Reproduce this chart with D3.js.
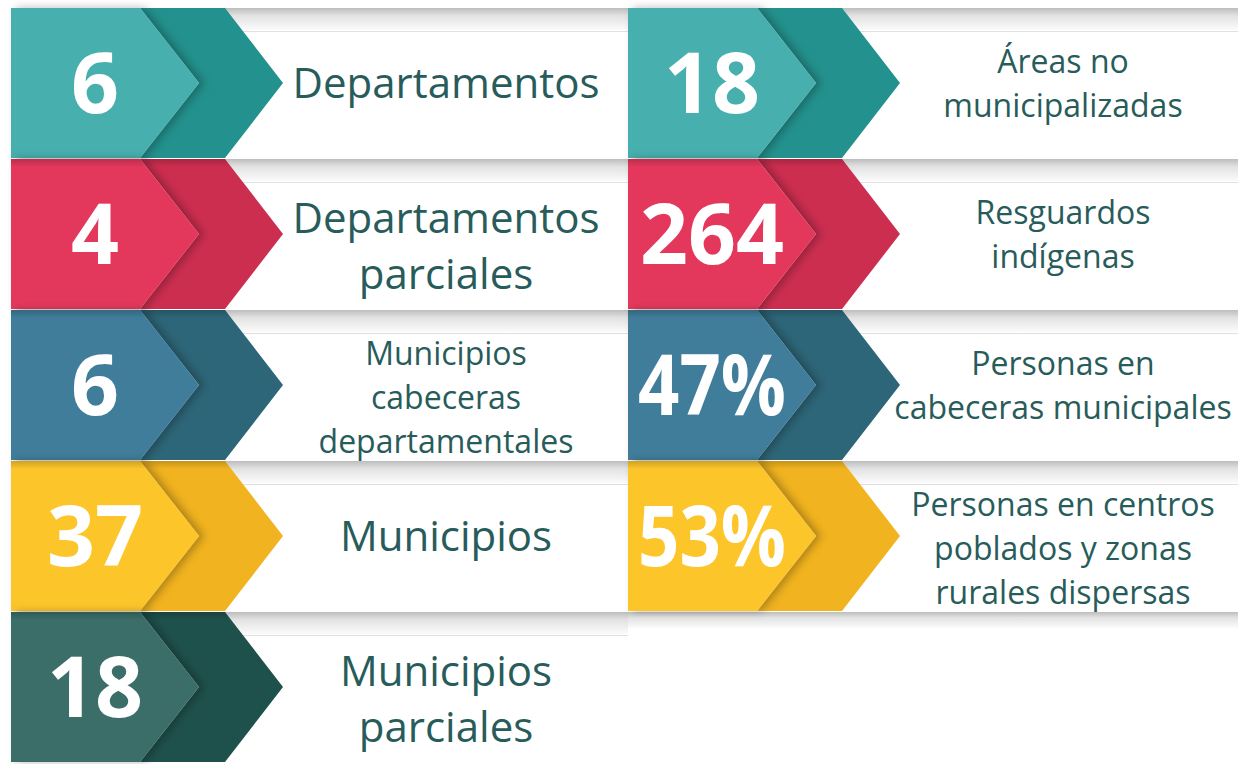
<!DOCTYPE html>
<html>
<head>
<meta charset="utf-8">
<script src="https://cdn.jsdelivr.net/npm/d3@7"></script>
<style>
  html, body { margin: 0; padding: 0; background: #ffffff; }
  svg { display: block; }
  text { font-family: "Open Sans", "Noto Sans", sans-serif; }
</style>
</head>
<body>
<div id="chart"></div>
<script>
// ---- data ----
var leftValues = ["6", "4", "6", "37", "18"];
var leftLabels = [
	["Departamentos"],
	["Departamentos", "parciales"],
	["Municipios", "cabeceras", "departamentales"],
	["Municipios"],
	["Municipios", "parciales"]
];
var rightValues = ["18", "264", "47%", "53%"];
var rightLabels = [
	["Áreas no", "municipalizadas"],
	["Resguardos", "indígenas"],
	["Personas en", "cabeceras municipales"],
	["Personas en centros", "poblados y zonas", "rurales dispersas"]
];
var lightColors = ["#47afae", "#e3395b", "#3f7d9a", "#fcc52c", "#3b6e69"];
var darkColors  = ["#23918d", "#cc2e50", "#2d6678", "#f1b31f", "#1f514c"];

//-------------------------
var width = 1238,
	height = 764,
	textColor = "#285c5b";

var items = [];
leftValues.forEach(function (v, i) {
	items.push({ col: "left", row: i, value: v, lines: leftLabels[i] });
});
rightValues.forEach(function (v, i) {
	items.push({ col: "right", row: i, value: v, lines: rightLabels[i] });
});

var y = d3.scaleBand().domain(d3.range(5)).range([8, 8 + 5 * 151]).paddingInner(0);
var x = d3.scaleBand().domain(["left", "right"]).range([11, 11 + 2 * 617]).paddingInner(0);

var svg = d3.select("#chart").append("svg")
	.attr("width", width)
	.attr("height", height);

var defs = svg.append("defs");

var band = defs.append("linearGradient").attr("id", "topBand")
	.attr("x1", 0).attr("x2", 0).attr("y1", 0).attr("y2", 1);
band.append("stop").attr("offset", "0%").attr("stop-color", "#bdbdbd");
band.append("stop").attr("offset", "35%").attr("stop-color", "#e2e2e2");
band.append("stop").attr("offset", "100%").attr("stop-color", "#fbfbfb");

var tileTop = defs.append("linearGradient").attr("id", "tileTop")
	.attr("x1", 0).attr("x2", 0).attr("y1", 0).attr("y2", 1);
tileTop.append("stop").attr("offset", "0%").attr("stop-color", "#000").attr("stop-opacity", 0.18);
tileTop.append("stop").attr("offset", "100%").attr("stop-color", "#000").attr("stop-opacity", 0);

var shadow = defs.append("filter").attr("id", "chevShadow")
	.attr("x", "-10%").attr("y", "-10%").attr("width", "130%").attr("height", "120%");
shadow.append("feDropShadow")
	.attr("dx", 5).attr("dy", 0).attr("stdDeviation", 4)
	.attr("flood-color", "#000").attr("flood-opacity", 0.28);

var h = y.bandwidth() - 1,
	step = x.bandwidth();

//------------- white text panels with a soft top band
var panels = svg.append("g").selectAll("g")
	.data(items)
	.enter()
		.append("g")
		.attr("transform", function (d) { return "translate(" + x(d.col) + "," + y(d.row) + ")"; });

panels.append("rect")
	.attr("x", 200).attr("y", 0)
	.attr("width", step - 200).attr("height", h)
	.attr("fill", "#ffffff");

panels.append("rect")
	.attr("x", 200).attr("y", 0)
	.attr("width", step - 200).attr("height", 22)
	.attr("fill", "url(#topBand)");

panels.append("line")
	.attr("x1", 200).attr("x2", step)
	.attr("y1", 23.5).attr("y2", 23.5)
	.attr("stroke", "#e0e0e0").attr("stroke-width", 1);

// shadow cast below the last right-hand tile
svg.append("rect")
	.attr("x", x("right")).attr("y", y(4))
	.attr("width", width - x("right")).attr("height", 16)
	.attr("fill", "url(#topBand)");

//------------- chevrons
var tiles = svg.append("g").selectAll("g")
	.data(items)
	.enter()
		.append("g")
		.attr("transform", function (d) { return "translate(" + x(d.col) + "," + y(d.row) + ")"; });

var mid = h / 2;

tiles.append("path")
	.attr("d", "M129,0 L214,0 L272," + mid + " L214," + h + " L129," + h + " L188," + mid + " Z")
	.attr("fill", function (d) { return darkColors[d.row]; });

tiles.append("path")
	.attr("d", "M0,0 L129,0 L188," + mid + " L129," + h + " L0," + h + " Z")
	.attr("fill", function (d) { return lightColors[d.row]; })
	.attr("filter", "url(#chevShadow)");

tiles.filter(function (d) { return d.row > 0; })
	.append("path")
	.attr("d", "M0,0 L214,0 L220,8 L0,8 Z")
	.attr("fill", "url(#tileTop)");

tiles.append("text")
	.attr("x", 84)
	.attr("y", mid + 30)
	.attr("text-anchor", "middle")
	.attr("fill", "#ffffff")
	.style("font-size", "84px")
	.style("font-weight", 700)
	.text(function (d) { return d.value; })
	.each(function () {
		// keep wide numbers (the percentages) inside the light chevron
		if (this.getComputedTextLength() > 148) {
			d3.select(this).attr("textLength", 148).attr("lengthAdjust", "spacingAndGlyphs");
		}
	});

//------------- labels
tiles.each(function (d) {
	var n = d.lines.length,
		big = d.col === "left" && n < 3,
		fs = big ? 42 : 32,
		lh = big ? 56 : 44,
		dy = (n === 3 || (d.col === "left" && n === 2)) ? 12 : 0,
		first = mid - (n - 1) * lh / 2 + 0.36 * fs + dy;

	d3.select(this).append("text")
		.attr("text-anchor", "middle")
		.attr("fill", textColor)
		.style("font-size", fs + "px")
		.selectAll("tspan")
		.data(d.lines)
		.enter()
			.append("tspan")
			.attr("x", 435)
			.attr("y", function (_, i) { return first + i * lh; })
			.text(function (t) { return t; });
});
</script>
</body>
</html>
